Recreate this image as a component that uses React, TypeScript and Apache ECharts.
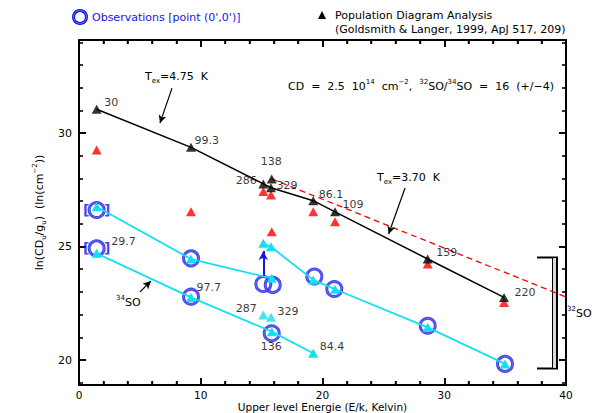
import React, { useEffect, useRef } from 'react';
import * as echarts from 'echarts';

// 32SO transitions (labels = frequency GHz), upper level energy E/k (K)
const energies32 = [1.45, 9.2, 15.83, 15.14, 15.77, 19.24, 21.03, 28.64, 34.91];
const freqLabels32 = ['30', '99.3', '138', '286', '329', '86.1', '109', '159', '220'];
const popBlack = [31.05, 29.37, 27.98, 27.76, 27.59, 27.02, 26.53, 24.45, 22.76];
const popRed = [29.25, 26.53, 25.65, 27.42, 27.27, 26.53, 26.09, 24.23, 22.53];
// black polyline (all except 138)
const blackLineE = [1.45, 9.2, 15.14, 15.77, 19.24, 21.03, 28.64, 34.91];
const blackLineV = [31.05, 29.37, 27.76, 27.59, 27.02, 26.53, 24.45, 22.76];
// red dashed fit
const dashedE = [15.83, 40];
const dashedV = [27.98, 22.78];

// Observations
const obs32E = [1.45, 9.2, 15.14, 15.91, 19.33, 20.97, 28.64, 34.99];
const obs32V = [26.61, 24.48, 23.35, 23.31, 23.68, 23.13, 21.51, 19.83];
const obs34E = [1.45, 9.2, 15.83];
const obs34V = [24.92, 22.79, 21.18];

// cyan model lines
const cyanAE = [1.45, 9.2, 15.83];
const cyanAV = [26.75, 24.45, 23.6];
const cyanBE = [15.14, 15.77, 19.24, 21.03, 28.64, 34.99];
const cyanBV = [25.14, 24.99, 23.53, 23.12, 21.44, 19.83];
const cyan34E = [1.45, 9.2, 15.83, 19.24];
const cyan34V = [24.7, 22.76, 21.25, 20.3];
const freqLabels34 = ['29.7', '97.7', '136', '84.4'];
const cyanIsoE = [15.14, 15.77];
const cyanIsoV = [21.98, 21.88];
const freqLabelsIso = ['287', '329'];

const X_MIN = 0;
const X_MAX = 40;
const Y_MIN = 18.9;
const Y_MAX = 34.1;
const xMajor = [0, 10, 20, 30, 40];
const xMinor = [2, 4, 6, 8, 12, 14, 16, 18, 22, 24, 26, 28, 32, 34, 36, 38];
const yMajor = [20, 25, 30];
const yMinor = [19, 21, 22, 23, 24, 26, 27, 28, 29, 31, 32, 33, 34];

const FONT = 'DejaVu Sans';
const CYAN = '#12e0f2';
const BLUE = '#1414e6';

const zip = (a: number[], b: number[]) => a.map((x, i) => [x, b[i]]);

export default function App() {
  const ref = useRef<HTMLDivElement>(null);
  useEffect(() => {
    if (!ref.current) return;
    const chart = echarts.init(ref.current, undefined, { renderer: 'svg' });

    const labelOffsets32: any[] = [
      { p: [8, -6], a: 'left' },
      { p: [4, -6], a: 'left' },
      { p: [0, -17], a: 'center' },
      { p: [-6, -3], a: 'right' },
      { p: [6, -2], a: 'left' },
      { p: [6, -6], a: 'left' },
      { p: [8, -7], a: 'left' },
      { p: [9, -6], a: 'left' },
      { p: [11, -4], a: 'left' },
    ];
    const labelOffsets34: any[] = [
      { p: [15, -6], a: 'left', obs: true },
      { p: [6, -9], a: 'left', obs: true },
      { p: [0, 14], a: 'center', obs: true },
      { p: [7, -6], a: 'left' },
    ];
    const labelOffsetsIso: any[] = [
      { p: [-6, -6], a: 'right' },
      { p: [7, -5], a: 'left' },
    ];
    const mkLabel = (x: number, y: number, t: string, o: any) => ({
      value: [x, y],
      label: {
        show: true,
        formatter: t,
        position: o.p,
        align: o.a,
        verticalAlign: 'middle',
        color: '#000',
        fontSize: 11,
        fontFamily: FONT,
      },
    });
    const labelData: any[] = [];
    energies32.forEach((e, i) => labelData.push(mkLabel(e, popBlack[i], freqLabels32[i], labelOffsets32[i])));
    freqLabels34.forEach((t, i) => {
      const o = labelOffsets34[i];
      const y = o.obs ? obs34V[i] : cyan34V[i];
      labelData.push(mkLabel(cyan34E[i], y, t, o));
    });
    freqLabelsIso.forEach((t, i) => labelData.push(mkLabel(cyanIsoE[i], cyanIsoV[i], t, labelOffsetsIso[i])));

    const bracketPts = [[obs32E[0], obs32V[0]], [obs34E[0], obs34V[0]]];

    const lineAxis = { show: true, onZero: false, lineStyle: { color: '#000', width: 2 } };
    const xTick = { show: true, inside: true, length: 7, lineStyle: { color: '#000', width: 1.6 } };
    const xMinorTick = { show: true, splitNumber: 5, length: 4, lineStyle: { color: '#000', width: 1.4 } };
    const xBase = {
      type: 'value', min: X_MIN, max: X_MAX, interval: 10,
      axisLine: lineAxis, axisTick: xTick, minorTick: xMinorTick,
      splitLine: { show: false }, minorSplitLine: { show: false },
    };
    const yBase = {
      type: 'value', min: Y_MIN, max: Y_MAX,
      axisLine: lineAxis,
      axisTick: { show: true, inside: true, length: 7, customValues: yMajor, lineStyle: { color: '#000', width: 1.6 } },
      splitLine: { show: false },
    };

    const rich = {
      n: { fontSize: 11, lineHeight: 16, fontFamily: FONT, color: '#000' },
      s: { fontSize: 7, lineHeight: 8, verticalAlign: 'bottom', fontFamily: FONT, color: '#000' },
      p: { fontSize: 7, lineHeight: 8, verticalAlign: 'top', fontFamily: FONT, color: '#000' },
    };

    // inward tick marks as markLine segments (lengths in axis units: ~7px major, ~4px minor)
    const XT_MAJ = 0.31, XT_MIN = 0.18; // vertical ticks, y-units
    const YT_MAJ = 0.58, YT_MIN = 0.33; // horizontal ticks, x-units
    const tickSegs: any[] = [];
    const addX = (vals: number[], len: number) =>
      vals.forEach((v) => {
        tickSegs.push([{ coord: [v, Y_MIN] }, { coord: [v, Y_MIN + len] }]);
        tickSegs.push([{ coord: [v, Y_MAX] }, { coord: [v, Y_MAX - len] }]);
      });
    const addY = (vals: number[], len: number) =>
      vals.forEach((v) => {
        tickSegs.push([{ coord: [X_MIN, v] }, { coord: [X_MIN + len, v] }]);
        tickSegs.push([{ coord: [X_MAX, v] }, { coord: [X_MAX - len, v] }]);
      });
    addX(xMajor, XT_MAJ);
    addX(xMinor, XT_MIN);
    addY(yMajor, YT_MAJ);
    addY(yMinor, YT_MIN);

    const option: any = {
      animation: false,
      backgroundColor: '#fff',
      grid: { left: 79, right: 31, top: 40, bottom: 28, containLabel: false, outerBoundsMode: 'none' },
      xAxis: [
        {
          ...xBase,
          position: 'bottom',
          axisLabel: { show: true, color: '#000', fontSize: 10.5, fontFamily: FONT, margin: 4 },
        },
        { ...xBase, position: 'top', axisLabel: { show: false } },
      ],
      yAxis: [
        {
          ...yBase,
          position: 'left',
          axisLabel: { show: true, customValues: yMajor, color: '#000', fontSize: 11, fontFamily: FONT, margin: 7 },
          name: '{n|ln(CD}{s|u}{n|/g}{s|u}{n|)  (ln(cm}{p|−2}{n|))}',
          nameLocation: 'middle',
          nameGap: 28,
          nameRotate: 90,
          nameTextStyle: { rich },
        },
        { ...yBase, position: 'right', axisLabel: { show: false } },
      ],
      series: [
        // frame ticks
        {
          type: 'line',
          data: [],
          clip: false,
          silent: true,
          markLine: {
            silent: true,
            symbol: ['none', 'none'],
            label: { show: false },
            lineStyle: { color: '#000', width: 1.6, type: 'solid' },
            data: tickSegs,
          },
          z: 20,
        },
        // red dashed fit
        {
          type: 'line',
          data: zip(dashedE, dashedV),
          symbol: 'none',
          clip: true,
          lineStyle: { color: '#ff0000', width: 1.3, type: [6, 4] },
          z: 2,
        },
        // black polyline
        {
          type: 'line',
          data: zip(blackLineE, blackLineV),
          symbol: 'none',
          lineStyle: { color: '#000', width: 1.5 },
          z: 3,
        },
        // red triangles
        {
          type: 'scatter',
          data: zip(energies32, popRed),
          symbol: 'triangle',
          symbolSize: [10, 9],
          itemStyle: { color: '#ff0000' },
          z: 3,
        },
        // black triangles
        {
          type: 'scatter',
          data: zip(energies32, popBlack),
          symbol: 'triangle',
          symbolSize: [10, 9],
          itemStyle: { color: '#000' },
          z: 4,
        },
        // observations (blue rings)
        {
          type: 'scatter',
          data: [...zip(obs32E, obs32V), ...zip(obs34E, obs34V)],
          symbol: 'circle',
          symbolSize: 15,
          itemStyle: { color: 'rgba(0,0,0,0)', borderColor: BLUE, borderWidth: 3 },
          z: 5,
        },
        {
          type: 'scatter',
          data: [...zip(obs32E, obs32V), ...zip(obs34E, obs34V)],
          symbol: 'circle',
          symbolSize: 15,
          itemStyle: { color: 'rgba(0,0,0,0)', borderColor: '#7d7dff', borderWidth: 0.8 },
          z: 6,
        },
        // brackets around first two observations
        {
          type: 'scatter',
          data: bracketPts,
          symbolSize: 1,
          itemStyle: { color: 'rgba(0,0,0,0)' },
          label: { show: true, formatter: '[', position: [-10, 0], align: 'center', verticalAlign: 'middle', color: BLUE, fontSize: 14, fontWeight: 'bold', fontFamily: FONT },
          z: 6,
        },
        {
          type: 'scatter',
          data: bracketPts,
          symbolSize: 1,
          itemStyle: { color: 'rgba(0,0,0,0)' },
          label: { show: true, formatter: ']', position: [11, 0], align: 'center', verticalAlign: 'middle', color: BLUE, fontSize: 14, fontWeight: 'bold', fontFamily: FONT },
          z: 6,
        },
        // cyan model lines
        ...[zip(cyanAE, cyanAV), zip(cyanBE, cyanBV), zip(cyan34E, cyan34V)].map((d) => ({
          type: 'line',
          data: d,
          symbol: 'triangle',
          symbolSize: [10, 9],
          showAllSymbol: true,
          itemStyle: { color: CYAN },
          lineStyle: { color: CYAN, width: 1.8 },
          z: 7,
        })),
        {
          type: 'scatter',
          data: zip(cyanIsoE, cyanIsoV),
          symbol: 'triangle',
          symbolSize: [10, 9],
          itemStyle: { color: CYAN },
          z: 7,
        },
        // arrows
        {
          type: 'line',
          data: [],
          markLine: {
            silent: true,
            symbol: ['none', 'arrow'],
            symbolSize: [7, 9],
            label: { show: false },
            lineStyle: { color: BLUE, width: 2, type: 'solid' },
            data: [[{ coord: [obs32E[2], 23.62] }, { coord: [obs32E[2], 24.8] }]],
          },
          z: 8,
        },
        {
          type: 'line',
          data: [],
          markLine: {
            silent: true,
            symbol: ['none', 'arrow'],
            symbolSize: [6, 8],
            label: { show: false },
            lineStyle: { color: '#000', width: 1.2, type: 'solid' },
            data: [
              [{ coord: [7.64, 31.98] }, { coord: [6.65, 30.44] }],
              [{ coord: [26.78, 27.58] }, { coord: [25.43, 25.55] }],
              [{ coord: [5.01, 23.0] }, { coord: [5.91, 23.48] }],
            ],
          },
          z: 8,
        },
        // number labels
        {
          type: 'scatter',
          data: labelData,
          symbolSize: 1,
          itemStyle: { color: 'rgba(0,0,0,0)' },
          z: 9,
        },
      ],
      graphic: [
        // x axis title
        {
          type: 'text', x: 322.5, y: 407,
          style: { text: 'Upper level Energie (E/k, Kelvin)', fill: '#000', font: `10.5px "${FONT}"`, align: 'center', verticalAlign: 'middle' },
        },
        // legend: observations
        { type: 'circle', shape: { cx: 80, cy: 17, r: 6.5 }, style: { fill: 'none', stroke: BLUE, lineWidth: 3 } },
        { type: 'circle', shape: { cx: 80, cy: 17, r: 6.5 }, style: { fill: 'none', stroke: '#7d7dff', lineWidth: 0.8 } },
        {
          type: 'text', x: 92, y: 17,
          style: { text: "Observations [point (0',0')]", fill: BLUE, font: `11px "${FONT}"`, verticalAlign: 'middle' },
        },
        // legend: population diagram
        { type: 'polygon', shape: { points: [[318, 19], [326, 19], [322, 11]] }, style: { fill: '#000' } },
        {
          type: 'text', x: 335, y: 15,
          style: { text: 'Population Diagram Analysis', fill: '#000', font: `11px "${FONT}"`, verticalAlign: 'middle' },
        },
        {
          type: 'text', x: 335, y: 29,
          style: { text: '(Goldsmith & Langer, 1999, ApJ 517, 209)', fill: '#000', font: `11px "${FONT}"`, verticalAlign: 'middle' },
        },
        // annotations
        { type: 'text', x: 145, y: 76, style: { text: '{n|T}{s|ex}{n|=4.75  K}', rich, verticalAlign: 'middle' } },
        { type: 'text', x: 377, y: 177, style: { text: '{n|T}{s|ex}{n|=3.70  K}', rich, verticalAlign: 'middle' } },
        {
          type: 'text', x: 288, y: 86,
          style: {
            text: '{n|CD  =  2.5  10}{p|14}{n|  cm}{p|−2}{n|,  }{p|32}{n|SO/}{p|34}{n|SO  =  16  (+/−4)}',
            rich, verticalAlign: 'middle',
          },
        },
        { type: 'text', x: 116, y: 302, style: { text: '{p|34}{n|SO}', rich, verticalAlign: 'middle' } },
        { type: 'text', x: 567, y: 313, style: { text: '{p|32}{n|SO}', rich, verticalAlign: 'middle' } },
        // bracket for 32SO
        {
          type: 'polyline',
          shape: { points: [[537, 257.5], [557, 257.5], [557, 368.5], [537, 368.5]] },
          style: { stroke: '#000', lineWidth: 2, fill: 'none' },
        },
        {
          type: 'rect',
          shape: { x: 552.5, y: 257.5, width: 4, height: 111 },
          style: { fill: '#d8d8d8', stroke: '#000', lineWidth: 1 },
        },
      ],
    };
    chart.setOption(option);
    return () => chart.dispose();
  }, []);
  return <div ref={ref} style={{ width: 597, height: 413, position: 'absolute', left: 0, top: 0 }} />;
}
